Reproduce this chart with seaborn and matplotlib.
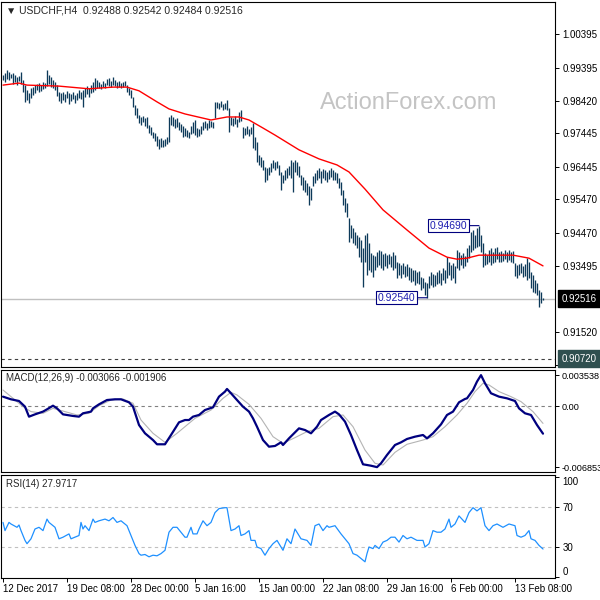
import matplotlib
matplotlib.use("Agg")
import matplotlib.pyplot as plt
import matplotlib.transforms as mtrans
import numpy as np
import pandas as pd
import seaborn as sns

# H4 bars, high / low (one bar every 2px)
highs = [
    .9918, .9924, .9933, .9927, .9921, .9924, .9918, .9912, .9915, .9927,
    .9903, .9888, .9874, .9865, .9880, .9882, .9888, .9891, .9894, .9888,
    .9897, .9894, .9933, .9918, .9912, .9903, .9897, .9888, .9868, .9865,
    .9868, .9862, .9871, .9865, .9862, .9868, .9859, .9865, .9874, .9868,
    .9874, .9880, .9885, .9880, .9888, .9897, .9909, .9903, .9897, .9891,
    .9900, .9894, .9906, .9909, .9900, .9912, .9903, .9897, .9900, .9894,
    .9897, .9900, .9888, .9880, .9874, .9853, .9829, .9820, .9799, .9793,
    .9796, .9790, .9793, .9769, .9763, .9748, .9745, .9736, .9727, .9730,
    .9724, .9727, .9733, .9793, .9799, .9793, .9787, .9790, .9778, .9772,
    .9766, .9760, .9754, .9748, .9766, .9778, .9784, .9760, .9757, .9766,
    .9778, .9781, .9775, .9784, .9781, .9778, .9838, .9838, .9835, .9841,
    .9832, .9835, .9844, .9820, .9793, .9790, .9796, .9787, .9808, .9814,
    .9763, .9760, .9766, .9757, .9763, .9775, .9733, .9718, .9680, .9674,
    .9665, .9644, .9641, .9644, .9656, .9665, .9659, .9662, .9650, .9629,
    .9620, .9635, .9641, .9647, .9665, .9659, .9665, .9659, .9647, .9620,
    .9614, .9605, .9596, .9587, .9581, .9617, .9626, .9635, .9641, .9632,
    .9638, .9635, .9629, .9635, .9641, .9635, .9629, .9626, .9611, .9599,
    .9575, .9551, .9536, .9492, .9471, .9462, .9450, .9441, .9435, .9426,
    .9402, .9441, .9447, .9417, .9387, .9381, .9378, .9390, .9396, .9393,
    .9384, .9387, .9381, .9384, .9378, .9390, .9381, .9361, .9358, .9352,
    .9358, .9349, .9355, .9346, .9343, .9337, .9337, .9331, .9334, .9316,
    .9313, .9301, .9298, .9319, .9331, .9325, .9322, .9331, .9337, .9328,
    .9343, .9337, .9375, .9361, .9352, .9358, .9349, .9396, .9390, .9381,
    .9387, .9378, .9402, .9411, .9450, .9456, .9441, .9462, .9469, .9441,
    .9417, .9387, .9381, .9396, .9402, .9390, .9402, .9405, .9390, .9393,
    .9387, .9396, .9390, .9396, .9390, .9393, .9358, .9352, .9355, .9358,
    .9349, .9355, .9372, .9361, .9331, .9322, .9307, .9298, .9277, .9271,
    .92542,
]
lows = [
    .9903, .9897, .9906, .9903, .9909, .9891, .9897, .9888, .9900, .9891,
    .9868, .9838, .9844, .9835, .9850, .9859, .9865, .9874, .9868, .9871,
    .9877, .9880, .9885, .9891, .9882, .9880, .9874, .9856, .9841, .9835,
    .9844, .9838, .9850, .9832, .9841, .9847, .9835, .9844, .9850, .9847,
    .9823, .9853, .9862, .9853, .9865, .9868, .9874, .9880, .9880, .9877,
    .9882, .9880, .9888, .9885, .9882, .9888, .9885, .9880, .9882, .9880,
    .9882, .9885, .9868, .9859, .9850, .9823, .9799, .9790, .9775, .9769,
    .9778, .9766, .9760, .9745, .9739, .9730, .9721, .9706, .9697, .9703,
    .9703, .9706, .9712, .9718, .9769, .9766, .9760, .9763, .9754, .9748,
    .9733, .9736, .9733, .9730, .9742, .9745, .9739, .9733, .9736, .9742,
    .9754, .9760, .9754, .9760, .9763, .9760, .9790, .9820, .9817, .9823,
    .9814, .9817, .9814, .9748, .9769, .9766, .9772, .9763, .9778, .9781,
    .9730, .9739, .9742, .9736, .9742, .9700, .9695, .9659, .9650, .9644,
    .9635, .9599, .9605, .9620, .9629, .9641, .9635, .9641, .9620, .9575,
    .9596, .9605, .9611, .9620, .9611, .9569, .9629, .9620, .9614, .9590,
    .9575, .9569, .9560, .9530, .9545, .9587, .9596, .9605, .9611, .9596,
    .9611, .9605, .9599, .9608, .9614, .9605, .9605, .9596, .9581, .9560,
    .9530, .9510, .9495, .9420, .9432, .9417, .9411, .9402, .9375, .9361,
    .9286, .9361, .9322, .9337, .9331, .9316, .9337, .9346, .9352, .9343,
    .9337, .9349, .9343, .9355, .9346, .9337, .9343, .9313, .9322, .9313,
    .9325, .9316, .9319, .9307, .9301, .9304, .9292, .9298, .9295, .9277,
    .9283, .9262, .9254, .9283, .9292, .9286, .9289, .9295, .9298, .9292,
    .9307, .9298, .9313, .9322, .9307, .9313, .9298, .9343, .9337, .9352,
    .9343, .9349, .9361, .9372, .9390, .9396, .9402, .9405, .9408, .9390,
    .9346, .9352, .9355, .9361, .9352, .9358, .9361, .9369, .9361, .9361,
    .9364, .9369, .9361, .9367, .9361, .9358, .9319, .9313, .9322, .9328,
    .9316, .9319, .9307, .9313, .9283, .9271, .9268, .9262, .9226, .9238,
    .92484,
]

# moving average (red), sampled along the line
ma_bar = [0, 8, 12, 28, 43, 55, 62, 68, 77, 83, 91, 104, 112, 118, 123, 130,
          136, 148, 158, 167, 173, 181, 190, 202, 213, 222, 227, 232, 238,
          255, 263, 270]
ma_val = [.9888, .9894, .9888, .9885, .9877, .9882, .9882, .9871, .9838, .9817,
          .9802, .9784, .9793, .9793, .9784, .9760, .9739, .9695, .9668, .9650,
          .9629, .9578, .9516, .9456, .9402, .9375, .9369, .9372, .9381, .9381,
          .9372, .9349]

macd_bar = [0, 4, 8, 11, 13, 16, 20, 22, 25, 27, 30, 35, 38, 40, 44, 45, 48, 52,
            56, 59, 63, 65, 68, 71, 75, 77, 81, 84, 88, 91, 93, 95, 98, 101, 105,
            108, 111, 112, 114, 117, 120, 123, 125, 127, 130, 133, 136, 139, 140,
            143, 148, 151, 154, 157, 159, 163, 166, 168, 171, 174, 177, 180, 184,
            187, 189, 192, 196, 199, 202, 206, 210, 212, 215, 219, 222, 225, 228,
            231, 232, 235, 237, 239, 241, 244, 248, 252, 256, 258, 261, 264, 267,
            270]
macd_val = [0.00111, 0.00081, 0.00062, -0.00002, -0.00115, -0.00089, -0.00058,
            -0.00032, 0.00009, -0.00021, -0.00089, -0.00107, -0.00115, -0.00077,
            -0.00058, -0.00021, 0.00024, 0.00073, 0.00081, 0.00081, 0.00047,
            -0.00002, -0.00209, -0.00303, -0.00379, -0.00427, -0.00427, -0.00322,
            -0.00179, -0.00153, -0.00153, -0.00115, -0.00096, -0.00040, -0.00009,
            0.00111, 0.00168, 0.00198, 0.00149, 0.00073, -0.00002, -0.00058,
            -0.00134, -0.00228, -0.00379, -0.00454, -0.00446, -0.00405, -0.00435,
            -0.00360, -0.00247, -0.00266, -0.00303, -0.00228, -0.00153, -0.00096,
            -0.00058, -0.00089, -0.00171, -0.00322, -0.00492, -0.00653, -0.00669,
            -0.00685, -0.00642, -0.00548, -0.00435, -0.00405, -0.00367, -0.00341,
            -0.00322, -0.00360, -0.00303, -0.00202, -0.00096, -0.00058, 0.00047,
            0.00085, 0.00092, 0.00186, 0.00281, 0.00354, 0.00262, 0.00149,
            0.00111, 0.00092, 0.00062, -0.00021, -0.00077, -0.00096, -0.00209,
            -0.00307]
signal_bar = [0, 4, 10, 14, 20, 25, 31, 37, 43, 48, 54, 60, 65, 69, 75, 81, 87,
              91, 96, 104, 110, 114, 117, 123, 129, 135, 140, 146, 152, 158, 165,
              170, 175, 181, 186, 190, 196, 202, 210, 215, 221, 227, 232, 236,
              240, 243, 248, 254, 259, 265, 270]
signal_val = [0.00186, 0.00111, -0.00002, -0.00058, -0.00077, -0.00021, -0.00058,
              -0.00096, -0.00077, 0.00009, 0.00073, 0.00085, 0.00036, -0.00153,
              -0.00303, -0.00405, -0.00303, -0.00228, -0.00134, -0.00040, 0.00092,
              0.00160, 0.00130, 0.00024, -0.00134, -0.00341, -0.00416, -0.00352,
              -0.00284, -0.00247, -0.00115, -0.00096, -0.00228, -0.00492, -0.00642,
              -0.00661, -0.00518, -0.00427, -0.00379, -0.00341, -0.00228, -0.00096,
              0.00036, 0.00168, 0.00262, 0.00243, 0.00168, 0.00111, 0.00055,
              -0.00058, -0.00191]

rsi_bar = [0, 1, 3, 4, 7, 8, 9, 11, 12, 14, 16, 18, 20, 22, 23, 24, 26, 28, 30, 33,
           34, 36, 38, 39, 40, 41, 43, 45, 46, 48, 51, 53, 55, 57, 59, 62, 64, 66,
           68, 69, 71, 73, 75, 77, 79, 81, 83, 85, 87, 89, 91, 92, 94, 95, 97, 98,
           100, 102, 104, 106, 108, 111, 112, 114, 116, 118, 119, 121, 123, 124,
           126, 127, 129, 131, 133, 135, 137, 139, 140, 142, 144, 146, 147, 149,
           152, 154, 156, 158, 160, 162, 163, 166, 169, 171, 173, 175, 177, 179,
           181, 182, 183, 185, 186, 188, 190, 192, 194, 196, 198, 200, 202, 204,
           207, 210, 211, 213, 215, 217, 219, 221, 223, 224, 226, 228, 231, 233,
           235, 237, 239, 241, 243, 245, 247, 250, 253, 256, 257, 259, 261, 263,
           264, 266, 268, 270]
rsi_val = [54.6, 46.4, 54.6, 53.0, 49.7, 52.0, 46.4, 36.6, 33.3, 38.2,
           48.0, 49.7, 46.4, 57.9, 54.6, 53.0, 49.7, 38.2, 39.8, 43.1,
           38.2, 39.8, 41.5, 54.6, 48.0, 51.3, 46.4, 57.9, 54.6, 56.2,
           57.9, 56.2, 59.5, 54.6, 56.2, 51.3, 41.5, 31.6, 23.4, 21.8,
           22.5, 20.2, 21.8, 21.2, 23.4, 26.7, 44.8, 49.7, 49.7, 44.8,
           39.8, 39.8, 49.7, 43.1, 43.1, 48.0, 56.2, 51.3, 54.6, 64.4,
           68.4, 69.3, 69.3, 46.4, 48.0, 51.3, 41.5, 43.1, 46.4, 36.6,
           36.6, 30.0, 28.4, 21.8, 28.4, 33.3, 36.6, 30.0, 26.7, 38.2,
           33.3, 48.0, 44.8, 38.2, 36.6, 31.6, 51.3, 53.0, 46.4, 51.3,
           49.7, 51.3, 43.1, 38.2, 33.3, 23.4, 21.8, 18.5, 15.2, 23.4,
           30.0, 28.4, 31.6, 28.4, 34.9, 36.6, 39.8, 39.8, 34.9, 41.5,
           38.2, 39.8, 36.6, 36.6, 30.0, 33.3, 46.4, 44.8, 44.8, 48.0,
           57.9, 49.7, 53.0, 61.1, 54.6, 64.4, 69.3, 66.1, 69.3, 51.3,
           46.4, 51.3, 53.0, 49.7, 53.0, 51.3, 41.5, 39.8, 41.5, 46.4,
           38.2, 36.6, 31.6, 28.0]

price_ticks = [1.00395, 0.99395, 0.98420, 0.97445, 0.96445, 0.95470, 0.94470,
               0.93495, 0.91520, 0.90545]
date_ticks = [0, 32, 64, 96, 128, 160, 192, 224, 256]
date_labels = ["12 Dec 2017", "19 Dec 08:00", "28 Dec 00:00", "5 Jan 16:00",
               "15 Jan 00:00", "22 Jan 08:00", "29 Jan 16:00", "6 Feb 00:00",
               "13 Feb 08:00"]
last_price = 0.92516
level_price = 0.90720
swing_high = (238, 0.94690)
swing_low = (212, 0.92540)

sns.set_style("white")
plt.rcParams["font.family"] = ["Liberation Sans", "DejaVu Sans"]
plt.rcParams["font.size"] = 7

bar_col = "#0d3a5a"
navy = "#00007f"

fig = plt.figure(figsize=(6, 6), dpi=100)


def panel(top, bottom, left=1, right=555):
    ax = fig.add_axes([left / 600, 1 - bottom / 600, (right - left) / 600,
                       (bottom - top) / 600])
    for s in ax.spines.values():
        s.set_color("black")
        s.set_linewidth(0.8)
    ax.set_xlim(-1, 276)
    ax.yaxis.tick_right()
    ax.tick_params(axis="y", length=3, width=0.7, pad=2.5, labelsize=7,
                   colors="black", right=True, left=False)
    return ax


ax = panel(2, 367)
ax_m = panel(370, 472)
ax_r = panel(475, 578)

# ---- price panel
bars = pd.DataFrame({"high": highs, "low": lows})
bars["bar"] = np.arange(len(bars))
ax.vlines(bars["bar"], bars["low"], bars["high"], color=bar_col, lw=0.95)
sns.lineplot(x=ma_bar, y=ma_val, ax=ax, color="red", lw=1.0, estimator=None)
ax.axhline(last_price, color="#c0c0c0", lw=1.0, zorder=0)
ax.axhline(level_price, color="#404040", lw=0.8, ls=(0, (3, 3)))
ax.set_ylim(0.90475, 1.01358)
ax.set_yticks(price_ticks)
ax.set_yticklabels([f"{p:.5f}" for p in price_ticks])
ax.yaxis.get_ticklabels()[-1].set_va("bottom")
ax.set_xticks([])

blend = mtrans.blended_transform_factory(ax.transAxes, ax.transData)
ax.text(1.012, last_price, "0.92516", transform=blend, ha="left", va="center",
        color="white", fontsize=7, clip_on=False, zorder=5,
        bbox=dict(boxstyle="square,pad=0.35", fc="black", ec="black"))
ax.text(1.012, level_price, "0.90720", transform=blend, ha="left", va="center",
        color="white", fontsize=7, clip_on=False, zorder=5,
        bbox=dict(boxstyle="square,pad=0.35", fc="#2f4f4f", ec="#2f4f4f"))

for (bx, by) in (swing_high, swing_low):
    ax.annotate(f"{by:.5f}", xy=(bx, by), xytext=(-12, 0),
                textcoords="offset pixels", ha="right", va="center",
                fontsize=7.5, color="#1c1cb0",
                bbox=dict(boxstyle="square,pad=0.15", fc="white", ec=navy, lw=0.8),
                arrowprops=dict(arrowstyle="-", color=navy, lw=0.8,
                                shrinkA=0, shrinkB=0))

ax.text(0.735, 0.723, "ActionForex.com", transform=ax.transAxes, ha="center",
        va="center", fontsize=17, color="#c4c4c4")
ax.text(0.009, 0.978, "\u25bc USDCHF,H4  0.92488 0.92542 0.92484 0.92516",
        transform=ax.transAxes, ha="left", va="center", fontsize=7.5)

# ---- MACD panel
ax_m.axhline(0, color="#808080", lw=0.8, ls=(0, (3, 3)))
sns.lineplot(x=signal_bar, y=signal_val, ax=ax_m, color="#b4b4b4", lw=0.8,
             estimator=None)
sns.lineplot(x=macd_bar, y=macd_val, ax=ax_m, color=navy, lw=1.6,
             estimator=None)
ax_m.set_ylim(-0.0074, 0.00412)
ax_m.set_yticks([0.003538, 0.0, -0.006853])
ax_m.set_yticklabels(["0.003538", "0.00", "-0.006853"])
ax_m.tick_params(axis="y", labelsize=6.6, pad=2)
ax_m.set_xticks([])
ax_m.text(0.009, 0.92, "MACD(12,26,9) -0.003066 -0.001906",
          transform=ax_m.transAxes, ha="left", va="center", fontsize=7)

# ---- RSI panel
for lv in (70, 30):
    ax_r.axhline(lv, color="#c0c0c0", lw=0.8, ls=(0, (3, 3)))
sns.lineplot(x=rsi_bar, y=rsi_val, ax=ax_r, color="#1e90ff", lw=0.9,
             estimator=None)
ax_r.set_ylim(-1, 102)
ax_r.set_yticks([100, 70, 30, 0])
ax_r.set_yticklabels(["100", "70", "30", "0"])
rl = ax_r.yaxis.get_ticklabels()
rl[0].set_va("top")
rl[-1].set_va("bottom")
ax_r.set_xticks(date_ticks)
ax_r.set_xticklabels(date_labels, ha="left")
ax_r.tick_params(axis="x", length=3, width=0.7, pad=1.5, labelsize=7,
                 bottom=True, colors="black")
ax_r.text(0.009, 0.913, "RSI(14) 27.9717", transform=ax_r.transAxes,
          ha="left", va="center", fontsize=7)

for a in (ax, ax_m, ax_r):
    a.set_xlabel("")
    a.set_ylabel("")

fig.savefig("out.png", dpi=100)
